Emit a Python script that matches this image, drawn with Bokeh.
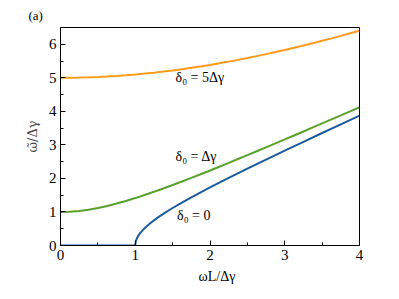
from bokeh.plotting import figure
from bokeh.models import Label, Range1d, FixedTicker, Title
from bokeh.embed import file_html
from bokeh.resources import INLINE

# Data
x_orange = [0, 0.125, 0.25, 0.375, 0.5, 0.625, 0.75, 0.875, 1, 1.125, 1.25, 1.375, 1.5, 1.625, 1.75, 1.875, 2,
            2.125, 2.25, 2.375, 2.5, 2.625, 2.75, 2.875, 3, 3.125, 3.25, 3.375, 3.5, 3.625, 3.75, 3.875, 4]
y_orange = [5.00, 5.002, 5.006, 5.014, 5.025, 5.039, 5.056, 5.076, 5.099, 5.125, 5.154, 5.186, 5.220, 5.257, 5.297,
            5.340, 5.385, 5.433, 5.483, 5.535, 5.590, 5.647, 5.706, 5.768, 5.831, 5.896, 5.963, 6.032, 6.103,
            6.176, 6.250, 6.326, 6.403]

x_green = [0, 0.125, 0.25, 0.375, 0.5, 0.625, 0.75, 0.875, 1, 1.125, 1.25, 1.375, 1.5, 1.625, 1.75, 1.875, 2,
           2.125, 2.25, 2.375, 2.5, 2.625, 2.75, 2.875, 3, 3.125, 3.25, 3.375, 3.5, 3.625, 3.75, 3.875, 4]
y_green = [1.00, 1.008, 1.031, 1.068, 1.118, 1.179, 1.250, 1.329, 1.414, 1.505, 1.601, 1.700, 1.803, 1.908, 2.016,
           2.125, 2.236, 2.348, 2.462, 2.578, 2.693, 2.809, 2.926, 3.044, 3.162, 3.281, 3.400, 3.520, 3.640,
           3.760, 3.881, 4.001, 4.123]

x_blue = [0, 1.0, 1.005, 1.01, 1.02, 1.03, 1.045, 1.06, 1.08, 1.1, 1.125, 1.15, 1.2, 1.25, 1.3, 1.4, 1.5, 1.625,
          1.75, 1.875, 2, 2.25, 2.5, 2.75, 3, 3.25, 3.5, 3.75, 4]
y_blue = [0, 0, 0.100, 0.142, 0.201, 0.247, 0.304, 0.352, 0.408, 0.458, 0.516, 0.568, 0.663, 0.750, 0.831, 0.980,
          1.118, 1.281, 1.436, 1.586, 1.732, 2.016, 2.291, 2.562, 2.828, 3.092, 3.354, 3.614, 3.873]

x_ticks = [0, 1, 2, 3, 4]
y_ticks = [0, 1, 2, 3, 4, 5, 6]

FONT = "Liberation Serif"

p = figure(width=383, height=291, output_backend="svg", toolbar_location=None,
           x_range=Range1d(0, 4), y_range=Range1d(0, 6.5),
           min_border_left=60, min_border_right=24, min_border_top=24, min_border_bottom=46)

p.line(x_orange, y_orange, line_color="#ff9a1a", line_width=2)
p.line(x_green, y_green, line_color="#5aa02c", line_width=2)
p.line(x_blue, y_blue, line_color="#1c5a9e", line_width=2)

p.grid.visible = False
p.outline_line_color = "black"
p.outline_line_width = 1

for ax, ticks, minors in ((p.xaxis, x_ticks, [0.5, 1.5, 2.5, 3.5]),
                          (p.yaxis, y_ticks, [0.5, 1.5, 2.5, 3.5, 4.5, 5.5])):
    ax.ticker = FixedTicker(ticks=ticks, minor_ticks=minors)
    ax.major_tick_in = 5
    ax.major_tick_out = 0
    ax.minor_tick_in = 3
    ax.minor_tick_out = 0
    ax.axis_line_color = "black"
    ax.major_tick_line_color = "black"
    ax.minor_tick_line_color = "black"
    ax.major_label_text_font = FONT
    ax.major_label_text_font_size = "15px"
    ax.major_label_text_color = "black"
    ax.major_label_standoff = 4

p.yaxis.axis_label = "ω̃/Δγ"
p.yaxis.axis_label_text_font = "DejaVu Serif"
p.yaxis.axis_label_text_font_style = "normal"
p.yaxis.axis_label_text_font_size = "13px"
p.yaxis.axis_label_standoff = 6

def lab(x, y, t, size="14px"):
    p.add_layout(Label(x=x, y=y, text=t, text_font=FONT, text_font_size=size, text_color="black"))

lab(1.54, 4.79, "δ₀ = 5Δγ")
lab(1.54, 2.44, "δ₀ = Δγ")
lab(1.56, 0.68, "δ₀ = 0")

# x-axis label as a title in the panel below the axis
p.add_layout(Title(text="ωL/Δγ", align="left", offset=138, standoff=8, text_font=FONT,
                   text_font_size="14px", text_font_style="normal", text_color="black"), "below")

# panel tag
p.add_layout(Title(text="(a)", align="left", offset=-32, text_font=FONT,
                   text_font_size="13px", text_font_style="normal", text_color="black"), "above")

open("out.html", "w").write(file_html(p, INLINE))
